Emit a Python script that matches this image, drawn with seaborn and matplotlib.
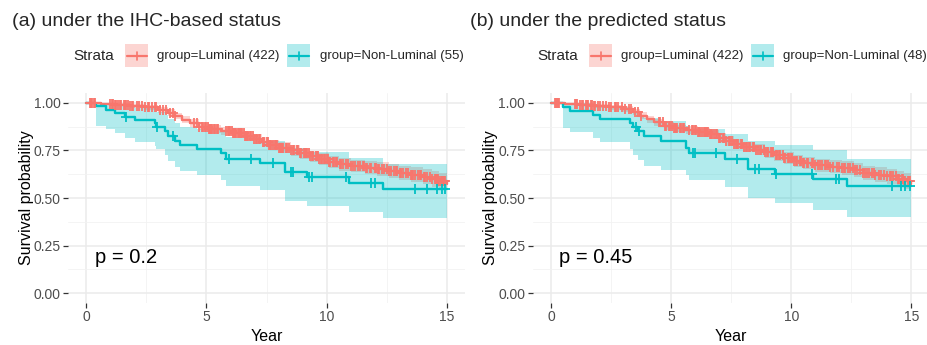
import numpy as np
import pandas as pd
import matplotlib
matplotlib.use("Agg")
import matplotlib.pyplot as plt
import seaborn as sns
from matplotlib.patches import Rectangle
from matplotlib.lines import Line2D

# ---------------- Kaplan-Meier estimates ----------------
# (a) IHC-based status
a_lum_time = [0.0, 0.6, 1.2, 1.8, 2.4, 3.0, 3.4, 3.7, 4.0, 4.3, 4.7, 5.1, 5.6, 6.1, 6.6, 7.0, 7.3,
              7.6, 8.0, 8.5, 8.9, 9.3, 9.7, 10.1, 10.5, 11.0, 11.6, 12.1, 12.6, 13.0, 13.5, 14.0,
              14.4, 14.7, 15.0]
a_lum_surv = [1.0, 0.995, 0.99, 0.982, 0.975, 0.962, 0.948, 0.93, 0.91, 0.893, 0.875, 0.862, 0.852,
              0.84, 0.828, 0.81, 0.795, 0.78, 0.765, 0.75, 0.735, 0.718, 0.703, 0.69, 0.677, 0.668,
              0.66, 0.653, 0.643, 0.632, 0.622, 0.612, 0.6, 0.588, 0.575]
a_lum_upper = [1.0, 0.999, 0.997, 0.993, 0.988, 0.978, 0.965, 0.948, 0.928, 0.912, 0.895, 0.882,
               0.873, 0.862, 0.851, 0.834, 0.82, 0.806, 0.792, 0.778, 0.764, 0.748, 0.734, 0.722,
               0.71, 0.702, 0.695, 0.689, 0.68, 0.67, 0.661, 0.652, 0.641, 0.63, 0.618]
a_lum_lower = [1.0, 0.99, 0.982, 0.971, 0.962, 0.946, 0.931, 0.912, 0.891, 0.873, 0.855, 0.841,
               0.83, 0.818, 0.805, 0.786, 0.77, 0.754, 0.738, 0.722, 0.706, 0.688, 0.672, 0.658,
               0.644, 0.634, 0.625, 0.617, 0.606, 0.594, 0.583, 0.572, 0.559, 0.546, 0.532]
a_lum_censor = [0.15, 0.2, 0.25, 0.3, 0.35, 1.0, 1.05, 1.1, 1.2, 1.25, 1.3, 1.4, 1.45, 1.55, 1.6,
                1.65, 1.75, 1.8, 1.9, 1.95, 2.1, 2.2, 2.3, 2.45, 2.55, 2.6, 2.75, 2.85, 2.9, 3.05,
                3.2, 3.3, 3.5, 3.6, 3.7, 4.5, 4.6, 4.7, 4.8, 4.85, 4.95, 5.0, 5.05, 5.1, 5.15,
                5.2, 5.25, 5.3, 5.35, 5.45, 5.5, 5.8, 5.9, 5.95, 6.0, 6.05, 6.1, 6.15, 6.2, 6.25,
                6.3, 6.35, 6.4, 6.45, 6.5, 6.55, 6.6, 6.65, 6.7, 6.75, 6.8, 6.85, 6.95, 7.0, 7.05,
                7.1, 7.2, 7.25, 7.35, 7.4, 7.5, 7.55, 7.6, 7.65, 7.7, 7.75, 7.85, 7.9, 7.95, 8.0,
                8.05, 8.1, 8.15, 8.2, 8.3, 8.35, 8.45, 8.5, 8.6, 8.65, 8.75, 8.8, 8.9, 8.95, 9.05,
                9.1, 9.15, 9.2, 9.25, 9.3, 9.4, 9.45, 9.55, 9.6, 9.65, 9.7, 9.75, 9.8, 9.9, 9.95,
                10.0, 10.05, 10.1, 10.15, 10.25, 10.3, 10.4, 10.45, 10.55, 10.6, 10.7, 10.8,
                10.9, 11.0, 11.1, 11.2, 11.3, 11.4, 11.5, 11.55, 11.65, 11.7, 11.8, 11.85, 12.0,
                12.05, 12.15, 12.2, 12.3, 12.4, 12.5, 12.6, 12.7, 12.8, 12.9, 12.95, 13.05, 13.1,
                13.2, 13.3, 13.4, 13.5, 13.55, 13.6, 13.7, 13.8, 13.9, 13.95, 14.05, 14.1, 14.2,
                14.3, 14.4, 14.5, 14.55, 14.6, 14.65, 14.7, 14.75, 14.8, 14.85, 14.9, 14.95]

a_non_time = [0.0, 0.42, 0.83, 1.18, 1.6, 2.02, 2.85, 2.92, 3.26, 3.4, 3.68, 3.89, 4.6, 5.62, 5.8,
              7.22, 8.26, 9.2, 10.95, 12.35, 15.0]
a_non_surv = [1.0, 0.982, 0.964, 0.945, 0.927, 0.909, 0.891, 0.873, 0.85, 0.826, 0.8, 0.778, 0.758,
              0.735, 0.705, 0.683, 0.638, 0.612, 0.58, 0.548, 0.548]
a_non_upper = [1.0, 1.0, 0.998, 0.99, 0.98, 0.97, 0.96, 0.95, 0.935, 0.915, 0.895, 0.875, 0.86,
               0.845, 0.82, 0.8, 0.76, 0.74, 0.71, 0.678, 0.678]
a_non_lower = [1.0, 0.88, 0.86, 0.84, 0.815, 0.795, 0.775, 0.755, 0.726, 0.695, 0.665, 0.64, 0.62,
               0.595, 0.565, 0.54, 0.485, 0.46, 0.425, 0.393, 0.393]
a_non_censor = [1.65, 2.95, 3.6, 5.95, 6.87, 7.75, 8.5, 8.62, 9.25, 9.38, 10.8, 11.85, 12.0, 13.7,
                14.2, 14.6, 14.8, 14.95]

# (b) predicted status
b_lum_time = [0.0, 0.6, 1.2, 1.8, 2.4, 3.0, 3.4, 3.7, 4.0, 4.3, 4.7, 5.1, 5.6, 6.1, 6.6, 7.0, 7.3,
              7.6, 8.0, 8.5, 8.9, 9.3, 9.7, 10.1, 10.5, 11.0, 11.6, 12.1, 12.6, 13.0, 13.5, 14.0,
              14.4, 14.7, 15.0]
b_lum_surv = [1.0, 0.995, 0.99, 0.983, 0.976, 0.965, 0.95, 0.932, 0.913, 0.897, 0.878, 0.865, 0.856,
              0.845, 0.835, 0.815, 0.8, 0.783, 0.768, 0.754, 0.74, 0.724, 0.709, 0.696, 0.683,
              0.673, 0.664, 0.656, 0.645, 0.632, 0.622, 0.614, 0.602, 0.59, 0.573]
b_lum_upper = [1.0, 0.999, 0.997, 0.994, 0.989, 0.981, 0.967, 0.95, 0.931, 0.916, 0.898, 0.885,
               0.877, 0.867, 0.858, 0.839, 0.825, 0.809, 0.795, 0.782, 0.769, 0.754, 0.74, 0.728,
               0.716, 0.707, 0.699, 0.692, 0.682, 0.67, 0.661, 0.654, 0.643, 0.632, 0.616]
b_lum_lower = [1.0, 0.99, 0.982, 0.972, 0.963, 0.949, 0.933, 0.914, 0.894, 0.877, 0.858, 0.844,
               0.834, 0.822, 0.812, 0.791, 0.775, 0.757, 0.741, 0.726, 0.711, 0.694, 0.678, 0.664,
               0.65, 0.639, 0.629, 0.62, 0.608, 0.594, 0.583, 0.574, 0.561, 0.548, 0.53]
b_lum_censor = [0.15, 0.2, 0.25, 0.3, 0.35, 1.0, 1.05, 1.1, 1.2, 1.3, 1.35, 1.45, 1.5, 1.55, 1.65,
                1.7, 1.8, 1.85, 1.95, 2.05, 2.15, 2.3, 2.4, 2.5, 2.65, 2.7, 2.8, 2.95, 3.1, 3.25,
                3.35, 3.5, 3.6, 3.75, 4.5, 4.55, 4.65, 4.75, 4.8, 4.9, 4.95, 5.05, 5.1, 5.15, 5.2,
                5.25, 5.35, 5.4, 5.5, 5.55, 5.75, 5.85, 5.9, 6.0, 6.05, 6.1, 6.15, 6.2, 6.3, 6.35,
                6.4, 6.45, 6.5, 6.55, 6.6, 6.65, 6.7, 6.8, 6.85, 6.9, 7.0, 7.05, 7.15, 7.2, 7.3,
                7.4, 7.45, 7.55, 7.6, 7.7, 7.75, 7.8, 7.9, 7.95, 8.05, 8.1, 8.15, 8.25, 8.3, 8.4,
                8.45, 8.55, 8.6, 8.7, 8.75, 8.85, 8.9, 9.0, 9.05, 9.15, 9.2, 9.25, 9.35, 9.4, 9.5,
                9.55, 9.65, 9.7, 9.75, 9.85, 9.9, 10.0, 10.05, 10.1, 10.2, 10.25, 10.35, 10.4,
                10.5, 10.55, 10.65, 10.7, 10.85, 10.9, 11.0, 11.1, 11.2, 11.3, 11.4, 11.45, 11.55,
                11.6, 11.75, 11.9, 12.0, 12.1, 12.2, 12.25, 12.35, 12.45, 12.55, 12.65, 12.75,
                12.85, 13.0, 13.05, 13.15, 13.25, 13.35, 13.45, 13.5, 13.65, 13.75, 13.85, 14.0,
                14.1, 14.15, 14.25, 14.35, 14.45, 14.5, 14.6, 14.65, 14.7, 14.75, 14.85, 14.9,
                14.95]

b_non_time = [0.0, 0.51, 0.79, 1.76, 2.04, 3.3, 3.43, 3.6, 3.85, 4.58, 5.6, 5.75, 7.25, 8.2, 9.33,
              10.9, 12.32, 15.0]
b_non_surv = [1.0, 0.979, 0.958, 0.938, 0.917, 0.896, 0.872, 0.85, 0.825, 0.8, 0.765, 0.735, 0.705,
              0.652, 0.627, 0.598, 0.563, 0.563]
b_non_upper = [1.0, 1.0, 1.0, 0.99, 0.98, 0.965, 0.95, 0.935, 0.92, 0.905, 0.88, 0.86, 0.835, 0.8,
               0.78, 0.752, 0.705, 0.705]
b_non_lower = [1.0, 0.865, 0.845, 0.815, 0.795, 0.755, 0.726, 0.7, 0.668, 0.647, 0.62, 0.594, 0.56,
               0.498, 0.472, 0.437, 0.402, 0.402]
b_non_censor = [3.55, 3.65, 5.9, 6.0, 6.85, 7.74, 8.5, 8.64, 9.35, 10.85, 11.85, 11.97, 14.2, 14.55,
                14.75, 14.95]

strata_a = ["group=Luminal (422)", "group=Non-Luminal (55)"]
strata_b = ["group=Luminal (422)", "group=Non-Luminal (48)"]
titles = ["(a) under the IHC-based status", "(b) under the predicted status"]
pvals = ["p = 0.2", "p = 0.45"]

RED = "#F8766D"
TEAL = "#00BFC4"

sns.set_theme(style="whitegrid")
plt.rcParams["font.family"] = ["Liberation Sans", "DejaVu Sans"]

W, H = 927, 345
fig = plt.figure(figsize=(W / 100, H / 100), dpi=100)
fig.patch.set_facecolor("white")


def fx(px):
    return px / W


def fy(py):
    return 1 - py / H


def curve(time, surv, lo, hi, cens, color):
    return dict(t=np.array(time), s=np.array(surv), lo=np.array(lo), hi=np.array(hi),
                c=np.array(cens), color=color)


def surv_at(g, times):
    idx = np.searchsorted(g["t"], times, side="right") - 1
    return g["s"][idx]


def draw_panel(ax, groups, pval):
    for g in groups:
        ax.fill_between(g["t"], g["lo"], g["hi"], step="post", color=g["color"],
                        alpha=0.3, lw=0, zorder=2)
    for g in groups:
        df = pd.DataFrame({"Year": g["t"], "surv": g["s"]})
        sns.lineplot(data=df, x="Year", y="surv", drawstyle="steps-post", color=g["color"],
                     lw=1.7, estimator=None, sort=False, ax=ax, zorder=3)
    for g in groups:
        cdf = pd.DataFrame({"Year": g["c"], "surv": surv_at(g, g["c"])})
        sns.scatterplot(data=cdf, x="Year", y="surv", marker="+", s=48, color=g["color"],
                        linewidth=1.3, ax=ax, zorder=4)

    ax.set_xlim(-0.75, 15.75)
    ax.set_ylim(-0.05, 1.05)
    ax.set_xticks([0, 5, 10, 15])
    ax.set_xticklabels(["0", "5", "10", "15"])
    ax.set_yticks([0, 0.25, 0.5, 0.75, 1.0])
    ax.set_yticklabels(["0.00", "0.25", "0.50", "0.75", "1.00"])
    ax.set_xticks([2.5, 7.5, 12.5], minor=True)
    ax.set_yticks([0.125, 0.375, 0.625, 0.875], minor=True)
    ax.set_facecolor("white")
    ax.grid(which="major", color="#EBEBEB", lw=1.1)
    ax.grid(which="minor", color="#F2F2F2", lw=0.6)
    ax.set_axisbelow(True)
    for sp in ax.spines.values():
        sp.set_visible(False)
    ax.tick_params(which="major", length=3.5, width=0.9, color="#333333",
                   labelcolor="#4D4D4D", labelsize=10, pad=2, direction="out",
                   bottom=True, left=True)
    ax.tick_params(which="minor", length=0)
    ax.set_xlabel("Year", fontsize=11.5, color="black", labelpad=3)
    ax.set_ylabel("Survival probability", fontsize=11.5, color="black", labelpad=0)
    ax.text(0.35, 0.19, pval, fontsize=14.5, va="center", ha="left", color="black")


def draw_legend(x_strata, keys, labels):
    yc = 55.5
    fig.text(fx(x_strata), fy(yc), "Strata", fontsize=11, va="center", ha="left")
    for (kx, lx), lab, col in zip(keys, labels, [RED, TEAL]):
        fig.add_artist(Rectangle((fx(kx), fy(67)), fx(23), 23 / H, transform=fig.transFigure,
                                 facecolor=col, alpha=0.3, lw=0))
        fig.add_artist(Line2D([fx(kx + 1.5), fx(kx + 21.5)], [fy(yc), fy(yc)],
                              transform=fig.transFigure, color=col, lw=1.6))
        fig.add_artist(Line2D([fx(kx + 11.5), fx(kx + 11.5)], [fy(yc - 4), fy(yc + 4)],
                              transform=fig.transFigure, color=col, lw=1.2))
        fig.text(fx(lx), fy(yc), lab, fontsize=9.5, va="center", ha="left")


ax_a = fig.add_axes([fx(68.3), fy(302.8), fx(396.4), (302.8 - 93.2) / H])
ax_b = fig.add_axes([fx(533.0), fy(302.8), fx(396.4), (302.8 - 93.2) / H])

draw_panel(ax_a, [curve(a_lum_time, a_lum_surv, a_lum_lower, a_lum_upper, a_lum_censor, RED),
                  curve(a_non_time, a_non_surv, a_non_lower, a_non_upper, a_non_censor, TEAL)],
           pvals[0])
draw_panel(ax_b, [curve(b_lum_time, b_lum_surv, b_lum_lower, b_lum_upper, b_lum_censor, RED),
                  curve(b_non_time, b_non_surv, b_non_lower, b_non_upper, b_non_censor, TEAL)],
           pvals[1])

fig.text(fx(12), fy(22), titles[0], fontsize=14, va="center", ha="left")
fig.text(fx(470), fy(22), titles[1], fontsize=14, va="center", ha="left")

draw_legend(73, [(125, 157), (287, 320)], strata_a)
draw_legend(537, [(589, 621), (751, 783)], strata_b)

fig.savefig("out.png", dpi=100, facecolor="white")
